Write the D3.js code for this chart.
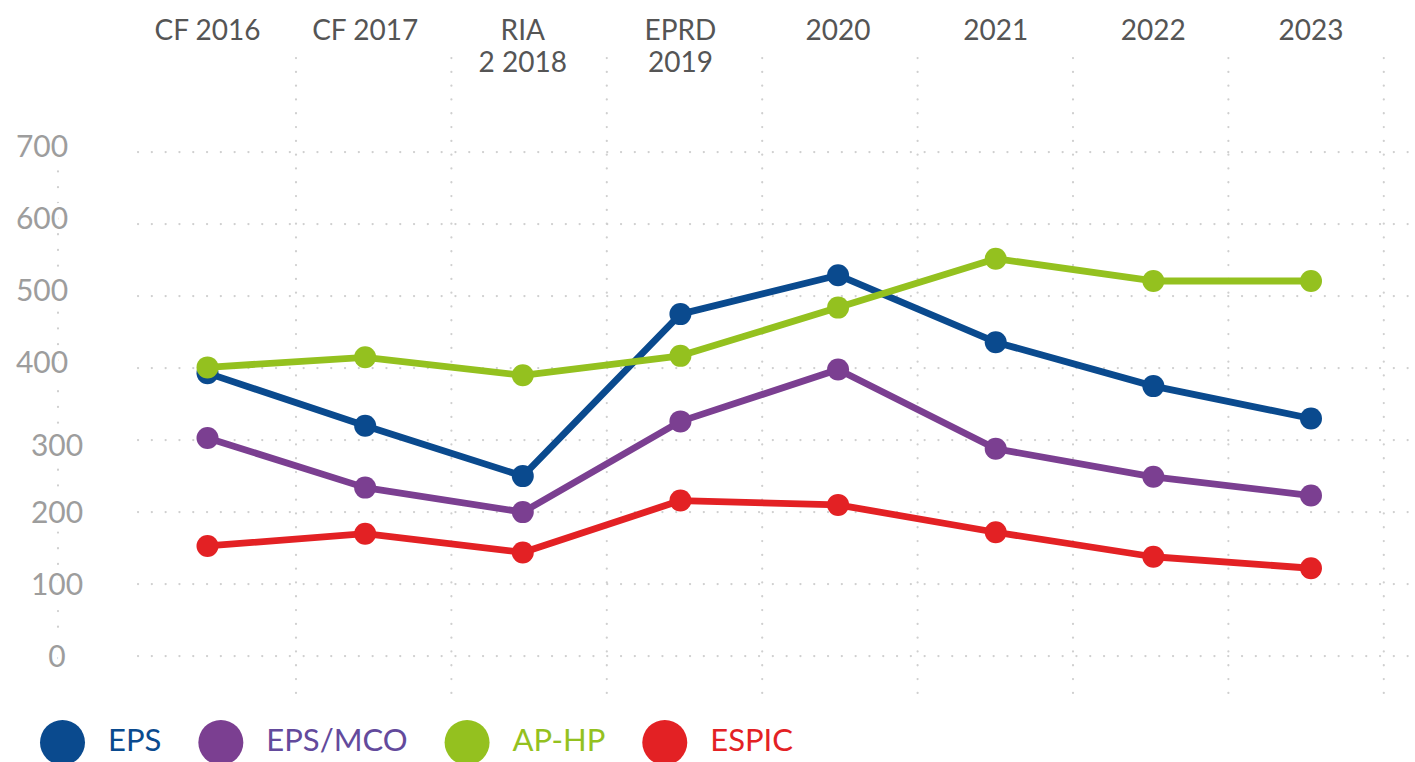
<!DOCTYPE html>
<html>
<head>
<meta charset="utf-8">
<script src="https://cdn.jsdelivr.net/npm/d3@7"></script>
<style>
  html, body { margin: 0; padding: 0; background: #fff; }
  svg { display: block; }
  text { font-family: Lato, "Noto Sans", sans-serif; }
</style>
</head>
<body>
<svg id="chart" width="1415" height="762"></svg>
<script>
// ---- data ----
const categories = ["CF 2016", "CF 2017", "RIA 2 2018", "EPRD 2019", "2020", "2021", "2022", "2023"];
const categoryLines = [["CF 2016"], ["CF 2017"], ["RIA", "2 2018"], ["EPRD", "2019"], ["2020"], ["2021"], ["2022"], ["2023"]];
const seriesNames = ["EPS", "EPS/MCO", "AP-HP", "ESPIC"];
const epsValues    = [393, 320, 250, 475, 529, 436, 375, 330];
const epsMcoValues = [303, 234, 200, 326, 398, 288, 249, 223];
const aphpValues   = [401, 415, 390, 417, 484, 552, 521, 521];
const espicValues  = [153, 170, 144, 216, 210, 172, 138, 122];
const yTicks = [0, 100, 200, 300, 400, 500, 600, 700];

// ---- styles / layout ----
const colors = {"EPS": "#0a4a8e", "EPS/MCO": "#7b3f91", "AP-HP": "#94c11f", "ESPIC": "#e32124"};
const legendTextColors = {"EPS": "#0a4a8e", "EPS/MCO": "#634a9c", "AP-HP": "#94c11f", "ESPIC": "#e32124"};

const svg = d3.select("#chart");
const W = 1415;

const x = d3.scalePoint().domain(categories).range([207.5, 1311]).padding(0);
const y = d3.scaleLinear().domain([0, 700]).range([656.1, 152.1]);

const seriesValues = [epsValues, epsMcoValues, aphpValues, espicValues];
const series = seriesNames.map((name, i) => ({
  name,
  values: categories.map((c, j) => ({cat: c, v: seriesValues[i][j]}))
}));

// ---- decorative dotted grid ----
const gridColor = "#cfcfcf";
const dotDash = "0.1 13.7";
const grid = svg.append("g");
grid.selectAll("line.h").data(yTicks).join("line")
  .attr("class", "h")
  .attr("x1", 138).attr("x2", W)
  .attr("y1", d => y(d)).attr("y2", d => y(d))
  .attr("stroke", gridColor).attr("stroke-width", 2.2)
  .attr("stroke-linecap", "round").attr("stroke-dasharray", dotDash);

const vGridX = d3.range(8).map(k => 296 + k * 155.4);
grid.selectAll("line.v").data(vGridX).join("line")
  .attr("class", "v")
  .attr("x1", d => d).attr("x2", d => d)
  .attr("y1", 58).attr("y2", 694)
  .attr("stroke", gridColor).attr("stroke-width", 2.2)
  .attr("stroke-linecap", "round").attr("stroke-dasharray", dotDash);

grid.append("line")
  .attr("x1", 58).attr("x2", 58).attr("y1", 140).attr("y2", 664)
  .attr("stroke", gridColor).attr("stroke-width", 2.2)
  .attr("stroke-linecap", "round").attr("stroke-dasharray", "0.1 15.6");

// ---- y axis labels ----
const yAxis = d3.axisLeft(y).tickValues(yTicks).tickSize(0).tickPadding(0);
const yAxisG = svg.append("g").call(yAxis);
yAxisG.select(".domain").remove();
yAxisG.selectAll(".tick text")
  .attr("x", d => d >= 400 ? 42 : 57)
  .attr("dy", d => d >= 400 ? "0.15em" : (d === 300 ? "0.5em" : "0.35em"))
  .attr("text-anchor", "middle")
  .attr("fill", "#9d9d9d")
  .attr("stroke", "#fff").attr("stroke-width", 8).attr("paint-order", "stroke")
  .style("font-family", "Lato, sans-serif")
  .style("font-size", "30px");

// ---- top category labels ----
const xAxisG = svg.append("g");
xAxisG.selectAll("text").data(categories).join("text")
  .attr("x", d => x(d))
  .attr("y", 40)
  .attr("text-anchor", "middle")
  .attr("fill", "#555")
  .style("font-size", "28px")
  .each(function(d, i) {
    const t = d3.select(this);
    categoryLines[i].forEach((line, k) => {
      t.append("tspan").attr("x", x(d)).attr("dy", k === 0 ? 0 : 32).text(line);
    });
  });

// ---- lines and markers ----
const line = d3.line().x(d => x(d.cat)).y(d => y(d.v));
const drawOrder = ["EPS", "EPS/MCO", "ESPIC", "AP-HP"];
drawOrder.forEach(name => {
  const s = series.find(s => s.name === name);
  const g = svg.append("g");
  g.append("path").datum(s.values)
    .attr("d", line)
    .attr("fill", "none")
    .attr("stroke", colors[name])
    .attr("stroke-width", 6.8)
    .attr("stroke-linejoin", "round");
  g.selectAll("circle").data(s.values).join("circle")
    .attr("cx", d => x(d.cat)).attr("cy", d => y(d.v))
    .attr("r", 11)
    .attr("fill", colors[name]);
});

// ---- legend ----
const legend = svg.append("g");
let cx = 62.5;
seriesNames.forEach(name => {
  legend.append("circle").attr("cx", cx).attr("cy", 742.5).attr("r", 22.5).attr("fill", colors[name]);
  const t = legend.append("text")
    .attr("x", cx + 45.5).attr("y", 751)
    .attr("fill", legendTextColors[name])
    .style("font-size", "31px")
    .text(name);
  const w = t.node().getComputedTextLength();
  cx = cx + 45.5 + w + 59.5;
});
</script>
</body>
</html>
